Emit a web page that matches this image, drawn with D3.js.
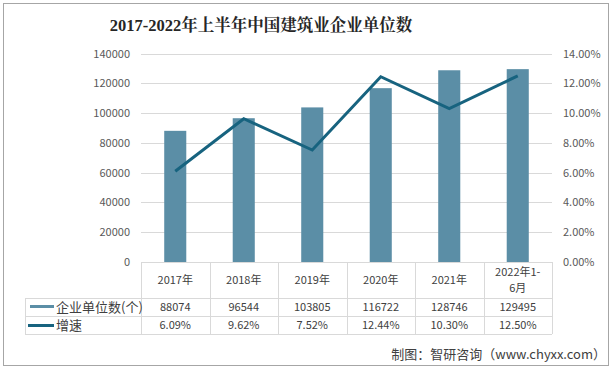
<!DOCTYPE html>
<html>
<head>
<meta charset="utf-8">
<script src="https://cdn.jsdelivr.net/npm/d3@7"></script>
<style>
body{margin:0;background:#fff;}
svg{display:block;}
</style>
</head>
<body>
<svg id="chart" width="612" height="370"></svg>
<script>
const categories = ["2017年","2018年","2019年","2020年","2021年","2022年1-6月"];
const categoryLines = [["2017年"],["2018年"],["2019年"],["2020年"],["2021年"],["2022年1-","6月"]];
const units = [88074, 96544, 103805, 116722, 128746, 129495];
const growth = [0.0609, 0.0962, 0.0752, 0.1244, 0.1030, 0.1250];
const growthLabels = ["6.09%","9.62%","7.52%","12.44%","10.30%","12.50%"];
const leftTicks = [0,20000,40000,60000,80000,100000,120000,140000];
const rightTicks = [0,0.02,0.04,0.06,0.08,0.10,0.12,0.14];
const seriesNames = ["企业单位数(个)","增速"];
const titleText = "2017-2022年上半年中国建筑业企业单位数";
const sourceText = "制图：智研咨询（www.chyxx.com）";

const barColor = "#5b8ea6";
const lineColor = "#17637f";
const gridColor = "#d9d9d9";
const textColor = "#595959";
const cjk = "'Noto Sans CJK SC','Noto Sans',sans-serif";

const svg = d3.select("#chart");
const L = 141, R = 552, T = 53.5, B = 262;

// outer border
svg.append("rect").attr("x",3.5).attr("y",3.5).attr("width",605).attr("height",362)
  .attr("fill","#fff").attr("stroke","#a6a6a6").attr("stroke-width",1);

// title
svg.append("text").attr("x",261).attr("y",31).attr("text-anchor","middle")
  .attr("font-family","'Liberation Serif','Noto Serif CJK SC',serif").attr("font-weight","bold")
  .attr("font-size",16.5).attr("fill","#262626").text(titleText);

const x = d3.scaleBand().domain(categories).range([L,R]).paddingInner(0.678).paddingOuter(0.339);
const xc = d3.scaleBand().domain(categories).range([L,R]).padding(0);
const y = d3.scaleLinear().domain([0,140000]).range([B,T]);
const y2 = d3.scaleLinear().domain([0,0.14]).range([B,T]);

// gridlines
svg.append("g").selectAll("line").data(leftTicks.filter(d=>d>0)).join("line")
  .attr("x1",L).attr("x2",R).attr("y1",d=>Math.round(y(d))+0.5).attr("y2",d=>Math.round(y(d))+0.5)
  .attr("stroke",gridColor).attr("stroke-width",1);

// left axis
const yAxis = d3.axisLeft(y).tickValues(leftTicks).tickSize(0).tickPadding(11).tickFormat(d3.format("d"));
const gl = svg.append("g").attr("transform",`translate(${L},0)`).call(yAxis);
gl.select(".domain").remove();
gl.selectAll("text").attr("font-family",cjk).attr("font-size",11).attr("fill",textColor);

// right axis
const yAxis2 = d3.axisRight(y2).tickValues(rightTicks).tickSize(0).tickPadding(11).tickFormat(d3.format(".2%"));
const gr = svg.append("g").attr("transform",`translate(${R},0)`).call(yAxis2);
gr.select(".domain").remove();
gr.selectAll("text").attr("font-family",cjk).attr("font-size",11).attr("fill",textColor);

// bars
svg.append("g").selectAll("rect").data(units).join("rect")
  .attr("x",(d,i)=>x(categories[i])).attr("width",x.bandwidth())
  .attr("y",d=>y(d)).attr("height",d=>B-y(d)).attr("fill",barColor);

// line
const line = d3.line().x((d,i)=>x(categories[i])+x.bandwidth()/2).y(d=>y2(d));
svg.append("path").datum(growth).attr("d",line).attr("fill","none")
  .attr("stroke",lineColor).attr("stroke-width",3).attr("stroke-linejoin","miter");

// data table
const rows = [262, 298, 316, 334];
const tableLeft = 25;
const tg = svg.append("g").attr("stroke",gridColor).attr("stroke-width",1);
tg.append("line").attr("x1",L).attr("x2",R).attr("y1",rows[0]+0.5).attr("y2",rows[0]+0.5);
[rows[1],rows[2],rows[3]].forEach(r=>{
  tg.append("line").attr("x1",tableLeft).attr("x2",R).attr("y1",r+0.5).attr("y2",r+0.5);
});
categories.forEach(c=>{
  const xx = Math.round(xc(c))+0.5;
  tg.append("line").attr("x1",xx).attr("x2",xx).attr("y1",rows[0]).attr("y2",rows[3]);
});
tg.append("line").attr("x1",R+0.5).attr("x2",R+0.5).attr("y1",rows[0]).attr("y2",rows[3]);
tg.append("line").attr("x1",tableLeft+0.5).attr("x2",tableLeft+0.5).attr("y1",rows[1]).attr("y2",rows[3]);

const tt = svg.append("g").attr("font-family",cjk).attr("font-size",11).attr("fill","#404040").attr("text-anchor","middle");
categoryLines.forEach((lines,i)=>{
  const cx = xc(categories[i]) + xc.bandwidth()/2;
  const n = lines.length;
  lines.forEach((s,j)=>{
    const cy = (rows[0]+rows[1])/2 + (j - (n-1)/2)*16;
    tt.append("text").attr("x",cx).attr("y",cy).attr("dy","0.35em").text(s);
  });
  tt.append("text").attr("x",cx).attr("y",(rows[1]+rows[2])/2).attr("dy","0.35em").text(units[i]);
  tt.append("text").attr("x",cx).attr("y",(rows[2]+rows[3])/2).attr("dy","0.35em").text(growthLabels[i]);
});

// legend in table
svg.append("rect").attr("x",30).attr("y",305).attr("width",24).attr("height",3).attr("fill",barColor);
svg.append("line").attr("x1",28).attr("x2",54).attr("y1",325.5).attr("y2",325.5).attr("stroke",lineColor).attr("stroke-width",3);
const lg = svg.append("g").attr("font-family",cjk).attr("font-size",13).attr("fill","#404040");
lg.append("text").attr("x",56).attr("y",(rows[1]+rows[2])/2).attr("dy","0.36em").text(seriesNames[0]);
lg.append("text").attr("x",56).attr("y",(rows[2]+rows[3])/2).attr("dy","0.36em").text(seriesNames[1]);

// source
svg.append("text").attr("x",606).attr("y",354).attr("dy","0.35em").attr("text-anchor","end")
  .attr("font-family",cjk).attr("font-size",13).attr("fill","#404040").text(sourceText);
</script>
</body>
</html>
